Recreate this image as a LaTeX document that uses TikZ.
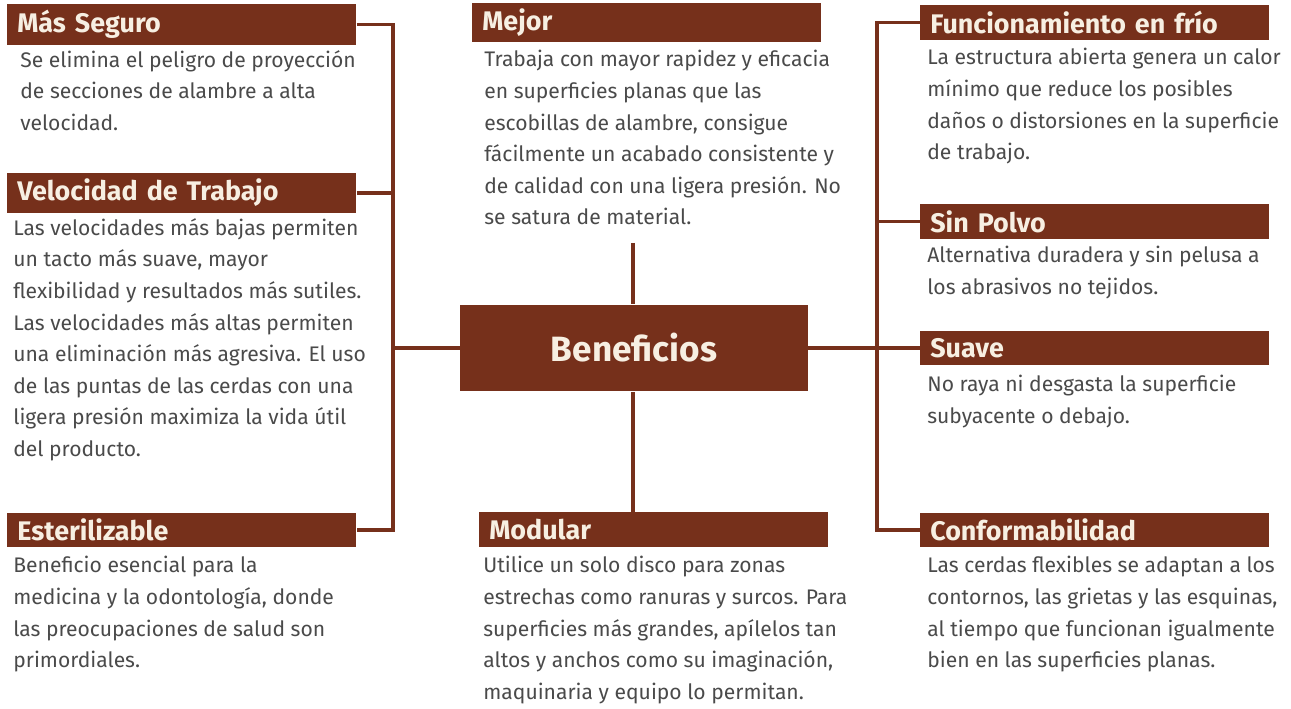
\documentclass[tikz,border=0pt]{standalone}
\usepackage{fontspec}
\setmainfont{Fira Sans}
\usepackage{xcolor}
\usepackage{tikz}
\definecolor{brownbar}{HTML}{76301B}
\definecolor{creamtxt}{HTML}{F7EFE2}
\definecolor{greytxt}{HTML}{4A4A4A}
\tikzset{
  headbar/.style={fill=brownbar, text=creamtxt, anchor=west, minimum width=6.98cm,
    minimum height=0.7cm, inner xsep=0.2cm, text width=6.58cm, align=left,
    font=\bfseries\fontsize{15.3}{16}\selectfont},
  bodytxt/.style={anchor=north west, inner sep=0pt, align=left, text=greytxt,
    font=\fontsize{12}{18}\selectfont},
  link/.style={brownbar, line width=1.8pt},
}
\begin{document}
\begin{tikzpicture}[x=0.02cm, y=-0.02cm]
  \useasboundingbox (0,0) rectangle (1291,709);

  \node[fill=brownbar, text=creamtxt, minimum width=6.96cm, minimum height=1.74cm,
    font=\bfseries\fontsize{20}{21}\selectfont] (benef) at (634,348) {Beneficios};

  \node[headbar] (seguro) at (7,24.5) {Más Seguro};
  \node[bodytxt] (seguroTxt) at (20,50) {Se elimina el peligro de proyección\\de secciones de alambre a alta\\velocidad.};
  \node[headbar] (veloc) at (7,193) {Velocidad de Trabajo};
  \node[bodytxt] (velocTxt) at (13,218) {Las velocidades más bajas permiten\\un tacto más suave, mayor\\flexibilidad y resultados más sutiles.\\Las velocidades más altas permiten\\una eliminación más agresiva. El uso\\de las puntas de las cerdas con una\\ligera presión maximiza la vida útil\\del producto.};
  \node[headbar] (esteril) at (7,530) {Esterilizable};
  \node[bodytxt] (esterilTxt) at (13,556) {Beneficio esencial para la\\medicina y la odontología, donde\\las preocupaciones de salud son\\primordiales.};

  \node[headbar] (mejor) at (472,22.5) {Mejor};
  \node[bodytxt] (mejorTxt) at (484,50) {Trabaja con mayor rapidez y eficacia\\en superficies planas que las\\escobillas de alambre, consigue\\fácilmente un acabado consistente y\\de calidad con una ligera presión. No\\se satura de material.};
  \node[headbar] (modular) at (479,529.5) {Modular};
  \node[bodytxt] (modularTxt) at (483,556) {Utilice un solo disco para zonas\\estrechas como ranuras y surcos. Para\\superficies más grandes, apílelos tan\\altos y anchos como su imaginación,\\maquinaria y equipo lo permitan.};

  \node[headbar] (frio) at (920,22.5) {Funcionamiento en frío};
  \node[bodytxt] (frioTxt) at (927,48) {La estructura abierta genera un calor\\mínimo que reduce los posibles\\daños o distorsiones en la superficie\\de trabajo.};
  \node[headbar] (polvo) at (920,221.5) {Sin Polvo};
  \node[bodytxt] (polvoTxt) at (927,246) {Alternativa duradera y sin pelusa a\\los abrasivos no tejidos.};
  \node[headbar] (suave) at (920,348) {Suave};
  \node[bodytxt] (suaveTxt) at (927,375) {No raya ni desgasta la superficie\\subyacente o debajo.};
  \node[headbar] (conform) at (920,530) {Conformabilidad};
  \node[bodytxt] (conformTxt) at (927,556) {Las cerdas flexibles se adaptan a los\\contornos, las grietas y las esquinas,\\al tiempo que funcionan igualmente\\bien en las superficies planas.};

  \coordinate (lbus) at (393,0);
  \coordinate (rbus) at (877,0);
  \coordinate (mejorEnd) at (633,243);

  \draw[link] (seguro.east) -| (lbus |- esteril.east) -- (esteril.east);
  \draw[link] (veloc.east) -- (lbus |- veloc.east);
  \draw[link] (benef.west) -- (lbus |- benef.west);
  \draw[link] (frio.west) -| (rbus |- conform.west) -- (conform.west);
  \draw[link] (polvo.west) -- (rbus |- polvo.west);
  \draw[link] (benef.east) -- (suave.west);
  \draw[link] (mejorEnd) -- (benef.north -| mejorEnd);
  \draw[link] (benef.south -| mejorEnd) -- (modular.north -| mejorEnd);
\end{tikzpicture}
\end{document}
